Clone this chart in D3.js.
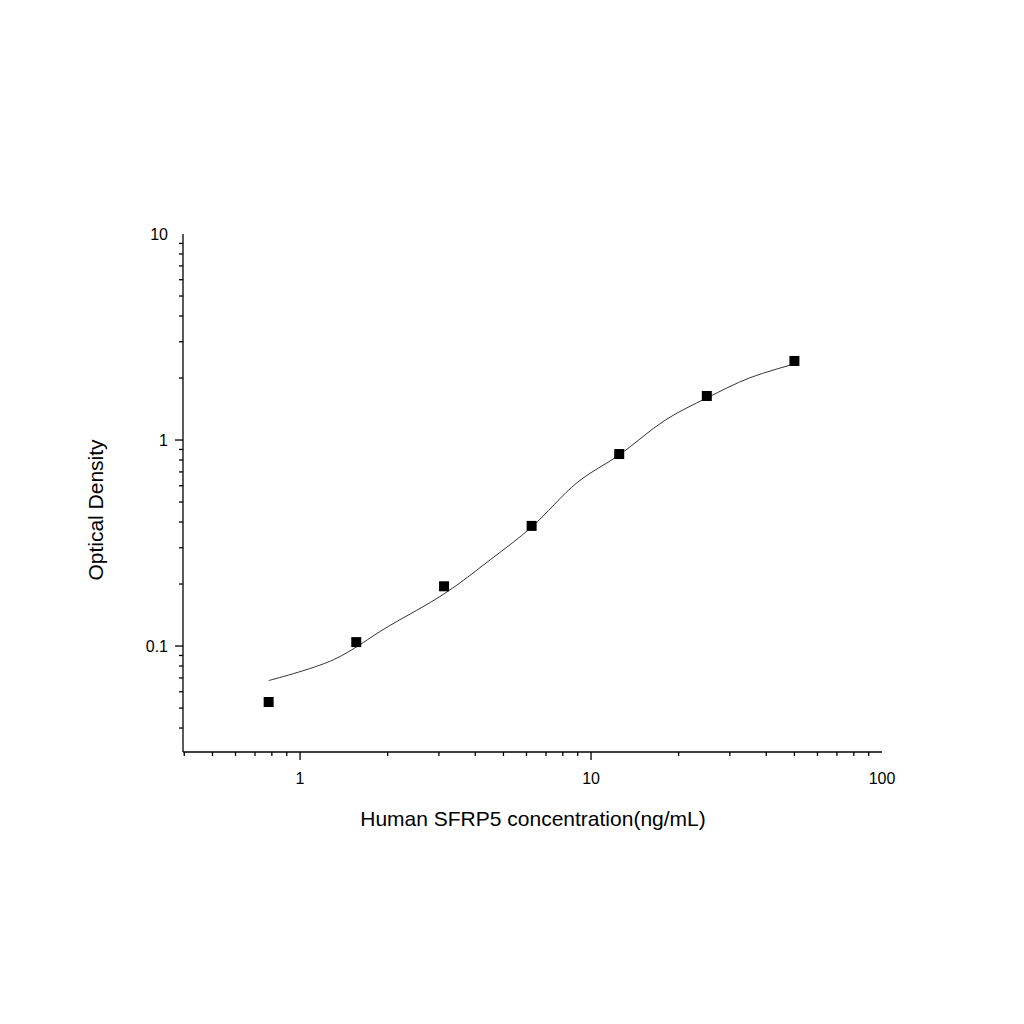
<!DOCTYPE html>
<html><head><meta charset="utf-8">
<script src="https://cdn.jsdelivr.net/npm/d3@7"></script>
<style>body{margin:0;background:#fff}svg{font-family:"Liberation Sans",Arial,sans-serif}</style>
</head><body>
<script>
// measured standards
var conc = [0.78, 1.56, 3.125, 6.25, 12.5, 25, 50]
var od = [0.0535, 0.1045, 0.195, 0.383, 0.855, 1.636, 2.42]
// fitted curve
var curveX = [0.78, 1.3, 2, 3.125, 4.5, 6.25, 9, 12.5, 18, 25, 35, 50]
var curveY = [0.068, 0.0857, 0.124, 0.179, 0.262, 0.378, 0.625, 0.846, 1.25, 1.6, 2.0, 2.34]
var xMajor = [1, 10, 100]
var yMajor = [0.1, 1, 10]

var svg = d3.select("body").append("svg").attr("width", 1024).attr("height", 1024)
var x = d3.scaleLog().domain([0.396, 100]).range([183, 882])
var y = d3.scaleLog().domain([0.0306, 10]).range([752, 234])

function minors(lo, hi) {
  var out = []
  for (var e = Math.floor(Math.log10(lo)); e < Math.log10(hi); e++)
    for (var k = 1; k < 10; k++) { var v = k * Math.pow(10, e); if (v >= lo && v <= hi) out.push(v) }
  return out
}

var g = svg.append("g").attr("stroke", "#000").attr("stroke-width", 1.3)
g.append("line").attr("x1", 183).attr("x2", 882).attr("y1", 752).attr("y2", 752)
g.append("line").attr("x1", 183).attr("x2", 183).attr("y1", 234).attr("y2", 752)
minors(0.396, 100).forEach(function(v) {
  var big = xMajor.indexOf(Math.round(v * 1000) / 1000) >= 0
  g.append("line").attr("x1", x(v)).attr("x2", x(v)).attr("y1", 752).attr("y2", 752 + (big ? 8 : 4))
})
minors(0.0306, 10).forEach(function(v) {
  var big = yMajor.some(function(m) { return Math.abs(m - v) < 1e-9 })
  g.append("line").attr("y1", y(v)).attr("y2", y(v)).attr("x1", 183).attr("x2", 183 - (big ? 8 : 4))
})
xMajor.forEach(function(v) {
  svg.append("text").attr("x", x(v)).attr("y", 784).attr("text-anchor", "middle").attr("font-size", 16).text(v)
})
yMajor.forEach(function(v) {
  svg.append("text").attr("x", 168).attr("y", y(v) + 6).attr("text-anchor", "end").attr("font-size", 16).text(v)
})
svg.append("text").attr("x", 533).attr("y", 826).attr("text-anchor", "middle").attr("font-size", 21)
  .text("Human SFRP5 concentration(ng/mL)")
svg.append("text").attr("transform", "translate(103,510) rotate(-90)").attr("text-anchor", "middle").attr("font-size", 21)
  .text("Optical Density")

var line = d3.line().x(function(d, i) { return x(d) }).y(function(d, i) { return y(curveY[i]) }).curve(d3.curveCatmullRom)
svg.append("path").attr("d", line(curveX)).attr("fill", "none").attr("stroke", "#333").attr("stroke-width", 1)

svg.selectAll("rect.pt").data(conc).join("rect").attr("class", "pt")
  .attr("x", function(d) { return x(d) - 5 }).attr("y", function(d, i) { return y(od[i]) - 5 })
  .attr("width", 10).attr("height", 10).attr("fill", "#000")
</script>
</body></html>
